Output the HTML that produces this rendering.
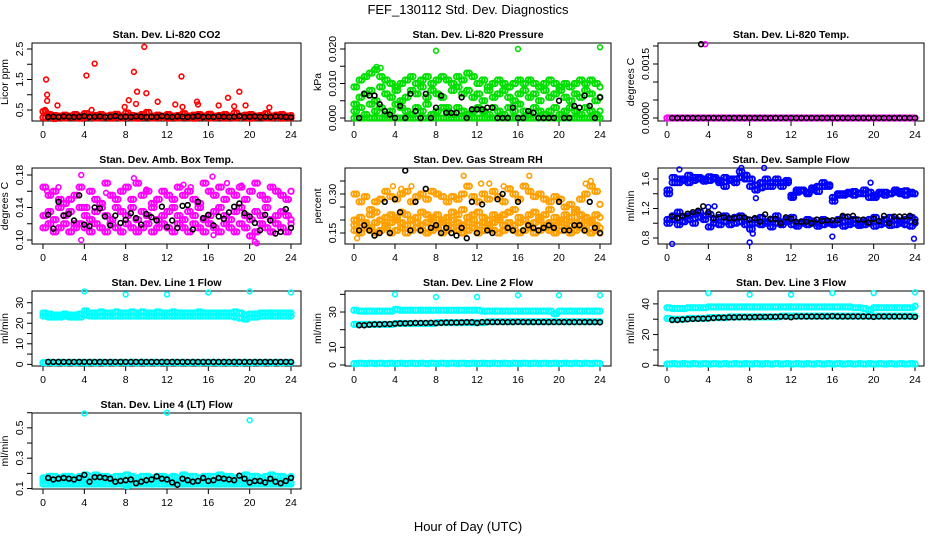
<!DOCTYPE html>
<html><head><meta charset="utf-8"><style>
html,body{margin:0;padding:0;background:#fff;}
svg{display:block;font-family:"Liberation Sans",sans-serif;}
</style></head><body>
<svg id="chart" width="936" height="540" viewBox="0 0 936 540">
<text x="468" y="14" text-anchor="middle" font-size="13">FEF_130112  Std. Dev. Diagnostics</text>
<text x="468" y="531" text-anchor="middle" font-size="13">Hour of Day (UTC)</text>
</svg>
<script>
const hours=[0,0.5,1,1.5,2,2.5,3,3.5,4,4.5,5,5.5,6,6.5,7,7.5,8,8.5,9,9.5,10,10.5,11,11.5,12,12.5,13,13.5,14,14.5,15,15.5,16,16.5,17,17.5,18,18.5,19,19.5,20,20.5,21,21.5,22,22.5,23,23.5,24];
const xTicks=[0,4,8,12,16,20,24];
const zeros=[0,0,0,0,0,0,0,0,0,0,0,0,0,0,0,0,0,0,0,0,0,0,0,0,0,0,0,0,0,0,0,0,0,0,0,0,0,0,0,0,0,0,0,0,0,0,0,0,0];
const ones=[0.8,1,0.8,1,0.8,1,0.8,1,0.8,1,0.8,1,0.8,1,0.8,1,0.8,1,0.8,1,0.8,1,0.8,1,0.8,1,0.8,1,0.8,1,0.8,1,0.8,1,0.8,1,0.8,1,0.8,1,0.8,1,0.8,1,0.8,1,0.8,1,0.8];

// CO2
const co2Red1=[0.45,0.35,0.32,0.3,0.33,0.3,0.35,0.3,0.38,0.3,0.32,0.35,0.3,0.33,0.36,0.3,0.4,0.32,0.3,0.35,0.42,0.3,0.33,0.3,0.35,0.3,0.32,0.38,0.3,0.33,0.35,0.3,0.36,0.3,0.32,0.35,0.3,0.4,0.3,0.33,0.35,0.3,0.32,0.38,0.3,0.33,0.35,0.3,0.32];
const co2Red2=[0.25,0.28,0.22,0.26,0.24,0.27,0.25,0.23,0.26,0.28,0.24,0.25,0.27,0.23,0.26,0.24,0.28,0.25,0.23,0.26,0.27,0.24,0.25,0.28,0.23,0.26,0.24,0.27,0.25,0.23,0.26,0.28,0.24,0.25,0.27,0.23,0.26,0.24,0.28,0.25,0.23,0.26,0.27,0.24,0.25,0.28,0.23,0.26,0.24];
const co2OutX=[0.2,0.3,0.4,0.4,1.4,4.2,4.7,5.0,7.9,8.3,8.8,9.0,9.1,9.8,10.0,11.1,12.8,13.4,13.5,14.9,15.0,17.0,17.9,18.5,19.0,19.6,21.9];
const co2OutY=[0.5,1.5,1.0,0.8,0.65,1.63,0.5,2.02,0.6,0.82,1.75,0.7,1.1,2.57,1.05,0.77,0.68,1.6,0.6,0.77,0.68,0.65,0.9,0.62,1.1,0.65,0.58];
const co2Black=[null,0.27,0.28,0.27,0.29,0.28,0.27,0.28,0.3,0.27,0.28,0.29,0.27,0.28,0.3,0.27,0.28,0.27,0.29,0.28,0.27,0.28,0.27,0.3,0.28,0.27,0.29,0.28,0.27,0.28,0.3,0.27,0.28,0.27,0.29,0.28,0.27,0.28,0.3,0.27,0.28,0.29,0.27,0.28,0.27,0.29,0.28,0.27,0.26];
// Pressure
const presG1=[0.009,0.011,0.012,0.013,0.014,0.012,0.011,0.010,0.009,0.010,0.011,0.012,0.010,0.011,0.012,0.010,0.011,0.012,0.011,0.010,0.012,0.011,0.013,0.012,0.010,0.011,0.009,0.010,0.011,0.010,0.009,0.010,0.011,0.010,0.011,0.010,0.009,0.010,0.011,0.010,0.009,0.010,0.009,0.010,0.011,0.010,0.011,0.010,0.009];
const presG2=[0.004,0.006,0.007,0.008,0.005,0.009,0.007,0.006,0.008,0.005,0.006,0.008,0.007,0.009,0.006,0.008,0.007,0.006,0.003,0.008,0.009,0.007,0.008,0.006,0.007,0.005,0.008,0.006,0.007,0.008,0.006,0.005,0.007,0.008,0.006,0.007,0.005,0.008,0.006,0.007,0.008,0.006,0.005,0.007,0.006,0.008,0.007,0.005,0.006];
const presG3=[0.002,0.003,0.001,0.004,0.002,0.003,0.001,0.002,0.004,0.003,0.002,0.001,0.003,0.002,0.004,0.001,0.002,0.003,0.002,0.001,0.003,0.002,0.001,0.002,0.003,0.002,0.001,0.003,0.002,0.001,0.003,0.002,0.004,0.002,0.001,0.003,0.002,0.001,0.002,0.003,0.001,0.002,0.003,0.002,0.001,0.003,0.002,0.001,0.002];
const presOutX=[8,16,24,2.2,2.6];
const presOutY=[0.0195,0.02,0.0205,0.0148,0.0145];
const presBlack=[null,0,0.007,0.0065,0.0065,0.004,0.002,0.001,0,0.0035,0,0.007,0.002,0,0.007,0,0.003,0.0065,0.0015,0.0015,0.0015,0.006,0,0.0025,0.0025,0.0025,0.003,0.003,0,0,0,0.003,0,0,0.002,0.0015,0,0,0,0,0.005,0,0,0.0035,0.003,0.0065,0.0035,0,0.006];
// Li-820 temp
const tempOutX=[3.7];
const tempOutY=[0.00205];
const tempBlack=[null,0,0,0,0,0,0,0,0,0,0,0,0,0,0,0,0,0,0,0,0,0,0,0,0,0,0,0,0,0,0,0,0,0,0,0,0,0,0,0,0,0,0,0,0,0,0,0,0];
const tempBlackOutX=[3.3];
const tempBlackOutY=[0.00205];
// Amb box
const ambM1=[0.165,0.155,0.16,0.15,0.145,0.15,0.155,0.165,0.14,0.16,0.15,0.145,0.17,0.155,0.15,0.16,0.165,0.15,0.17,0.155,0.16,0.145,0.15,0.16,0.155,0.15,0.165,0.155,0.16,0.15,0.145,0.17,0.16,0.155,0.165,0.15,0.16,0.155,0.165,0.15,0.16,0.17,0.155,0.15,0.165,0.16,0.155,0.15,0.16];
const ambM2=[0.13,0.135,0.125,0.14,0.13,0.135,0.12,0.14,0.13,0.125,0.135,0.14,0.13,0.125,0.14,0.135,0.13,0.14,0.125,0.135,0.13,0.14,0.125,0.13,0.135,0.14,0.13,0.125,0.135,0.13,0.14,0.125,0.13,0.135,0.14,0.13,0.125,0.135,0.14,0.13,0.125,0.135,0.13,0.14,0.125,0.13,0.135,0.13,0.125];
const ambM3=[0.115,0.12,0.11,0.115,0.12,0.11,0.115,0.12,0.115,0.11,0.12,0.115,0.11,0.12,0.115,0.11,0.12,0.115,0.11,0.115,0.12,0.11,0.115,0.12,0.115,0.11,0.12,0.115,0.11,0.12,0.115,0.11,0.12,0.115,0.11,0.12,0.115,0.11,0.12,0.115,0.105,0.11,0.12,0.115,0.11,0.12,0.115,0.11,0.12];
const ambOutX=[3.7,3.7,8.8,6.1,13.6,14.3,16.4,17.8,20.5,20.7,16.5,0.4,1.5,10,19.2];
const ambOutY=[0.18,0.1,0.176,0.158,0.168,0.165,0.178,0.17,0.098,0.096,0.106,0.16,0.165,0.162,0.167];
const ambBlack=[null,0.131,0.114,0.147,0.13,0.132,0.124,0.155,0.119,0.117,0.14,0.139,0.129,0.118,0.130,0.121,0.125,0.133,0.127,0.119,0.132,0.128,0.124,0.141,0.116,0.124,0.115,0.142,0.143,0.113,0.147,0.127,0.131,0.118,0.129,0.126,0.134,0.141,0.145,0.133,0.129,0.121,0.112,0.131,0.124,0.108,0.11,0.138,0.115];
// RH
const rhR1=[0.30,0.27,0.29,0.24,0.27,0.28,0.31,0.29,0.28,0.30,0.31,0.27,0.29,0.30,0.28,0.31,0.30,0.29,0.27,0.29,0.28,0.30,0.33,0.29,0.27,0.30,0.28,0.31,0.29,0.27,0.32,0.30,0.28,0.33,0.31,0.29,0.30,0.28,0.27,0.29,0.28,0.25,0.26,0.24,0.28,0.30,0.33,0.31,0.26];
const rhR2=[0.20,0.21,0.19,0.22,0.23,0.20,0.21,0.22,0.21,0.23,0.22,0.20,0.21,0.23,0.22,0.21,0.22,0.20,0.21,0.23,0.22,0.24,0.21,0.22,0.23,0.21,0.20,0.22,0.21,0.22,0.23,0.24,0.21,0.20,0.22,0.23,0.21,0.22,0.24,0.21,0.20,0.22,0.21,0.23,0.22,0.21,0.20,0.22,0.21];
const rhR3=[0.16,0.15,0.17,0.16,0.15,0.16,0.17,0.15,0.16,0.17,0.15,0.16,0.17,0.16,0.15,0.16,0.17,0.15,0.16,0.17,0.16,0.15,0.16,0.17,0.15,0.16,0.17,0.16,0.15,0.16,0.17,0.16,0.15,0.16,0.17,0.15,0.16,0.17,0.16,0.15,0.16,0.17,0.15,0.16,0.17,0.16,0.15,0.16,0.15];
const rhR4=[0.18,0.19,0.18,0.17,0.19,0.2,0.18,0.19,0.2,0.19,0.18,0.2,0.19,0.18,0.19,0.2,0.18,0.19,0.18,0.2,0.19,0.18,0.19,0.2,0.18,0.19,0.18,0.19,0.2,0.18,0.19,0.18,0.19,0.2,0.18,0.19,0.2,0.18,0.19,0.18,0.19,0.2,0.18,0.19,0.2,0.18,0.19,0.18,0.17];
const rhOutX=[0.3,10.7,12.4,13.2,17.1,23.1,5.6,4.6,3.8,14.6,22.6];
const rhOutY=[0.13,0.37,0.34,0.34,0.37,0.35,0.33,0.32,0.33,0.33,0.34];
const rhBlack=[null,0.16,0.18,0.16,0.14,0.15,0.27,0.15,0.28,0.23,0.39,0.16,0.27,0.16,0.32,0.17,0.18,0.15,0.17,0.15,0.14,0.17,0.13,0.27,0.15,0.26,0.16,0.15,0.28,0.30,0.17,0.16,0.27,0.16,0.18,0.17,0.16,0.17,0.18,0.17,0.27,0.16,0.16,0.18,0.18,0.16,0.27,0.17,0.15];
// Sample flow
const flowU1=[1.45,1.62,1.55,1.6,1.65,1.58,1.62,1.6,1.63,1.6,1.58,1.62,1.6,1.55,1.62,1.6,1.5,1.52,1.48,1.5,1.55,1.6,1.5,1.55,1.38,1.42,1.44,1.42,1.45,1.43,1.5,1.52,1.3,1.38,1.4,1.42,1.43,1.41,1.4,1.35,1.38,1.4,1.42,1.4,1.42,1.43,1.44,1.42,1.4];
const flowU2=[1.4,1.55,1.6,1.58,1.55,1.62,1.6,1.57,1.58,1.62,1.55,1.5,1.58,1.6,1.7,1.65,1.6,1.45,1.55,1.6,1.5,1.55,1.55,1.58,1.35,1.45,1.45,1.4,1.48,1.5,1.55,1.5,1.35,1.4,1.38,1.4,1.38,1.4,1.45,1.42,1.35,1.42,1.38,1.4,1.45,1.4,1.38,1.4,1.4];
const flowL1=[1.05,1.1,1.15,1.08,1.1,1.12,1.15,1.1,1.12,1.05,1.08,1.1,1.05,1.08,1.1,1.05,1.0,1.05,1.08,1.02,1.05,1.1,1.02,1.05,1.08,1.0,1.02,1.05,1.03,1.0,1.05,1.02,1.0,1.05,1.08,1.02,1.05,1.0,1.02,1.05,1.08,1.02,1.05,1.08,1.05,1.03,1.05,1.08,1.05];
const flowL2=[1.0,1.05,0.98,1.02,1.05,1.0,1.08,1.05,0.95,1.0,0.98,1.02,0.98,1.0,1.02,0.98,0.92,1.0,0.98,1.0,0.95,1.0,0.98,1.02,0.98,0.96,1.0,0.98,1.0,0.96,0.98,1.0,0.98,1.0,0.96,0.98,1.0,0.97,0.98,1.0,0.96,0.98,1.0,0.97,0.98,1.0,0.98,0.96,1.0];
const flowOutX=[0.5,8,8.3,16,23.9,7.2,9.4,1.2,19.7,4,4.6,8.6];
const flowOutY=[0.72,0.74,0.86,0.82,0.79,1.75,1.75,1.73,1.55,1.22,1.23,1.34];
const flowBlack=[null,1.09,1.07,1.1,1.13,1.15,1.17,1.23,1.15,1.07,1.12,1.08,1.07,1.07,1.08,1.08,1.05,1.07,1.02,1.12,1.06,1.06,1.0,1.08,1.06,1.02,1.02,1.02,1.0,1.05,1.03,1.04,1.04,1.04,1.1,1.09,1.1,1.05,1.05,1.01,1.06,1.03,1.1,1.0,1.09,1.09,1.09,1.1,1.02];
// Line 1
const l1C1=[25,24.5,24,24,24.5,24,24,24.5,26,25,25,25.5,25,25,25.5,25,25,25.5,25,25.5,25,25,25.5,25,25,25.5,25,25,25,25,25.5,25,25,25,25,25,25,25.5,25,24,24.5,24.5,25,25,25,25,25,25,25];
const l1C2=[23.5,23,23,23,23.5,23,23,23,24,23.5,23.5,23.5,23.5,23.5,23.5,23.5,23.5,23.5,23.5,23.5,23.5,23.5,23.5,23.5,23.5,23.5,23.5,23.5,23.5,23.5,23.5,23.5,23.5,23.5,23.5,23.5,23.5,23,22.5,22,23,23,23.5,23.5,23.5,23.5,23.5,23.5,23.5];
const l1OutX=[4,8,12,16,20,24];
const l1OutY=[35.5,34,34,35,35.5,35];
const l1Black=[null,1.2,1.2,1.2,1.2,1.2,1.2,1.2,1.2,1.2,1.2,1.2,1.2,1.2,1.2,1.2,1.2,1.2,1.2,1.2,1.2,1.2,1.2,1.2,1.2,1.2,1.2,1.2,1.2,1.2,1.2,1.2,1.2,1.2,1.2,1.2,1.2,1.2,1.2,1.2,1.2,1.2,1.2,1.2,1.2,1.2,1.2,1.2,1.2];
// Line 2
const l2C1=[31,30.5,30.5,30.5,30.5,30.5,30.5,30.5,31.5,31,31,31,31,31,31,31,31,31,31,31,31,31,31,31,31,30.5,30.5,30.5,30.5,30.5,30.5,30.5,30.5,30.5,30.5,30.5,30.5,30.5,30.5,29,30.5,30.5,30.5,30.5,30.5,30.5,30.5,30.5,30.5];
const l2C2=[23,23,23,23,23,23,23,23,23.5,23.5,23.5,23.5,23.5,23.5,23.5,23.5,24,24,24,24,24,24,24,24,24,24,24.5,24.5,24.5,24.5,24.5,24.5,24.5,24.5,24.5,24.5,24.5,24.5,24.5,24.5,24.5,24.5,24.5,24.5,24.5,24.5,24.5,24.5,24.5];
const l2OutX=[4,8,12,16,20,24];
const l2OutY=[40,38.5,38.5,39.5,39.5,39.5];
const l2Black=[null,22.5,22.5,22.8,23,23,23.2,23.2,23.4,23.6,23.6,23.7,23.8,23.8,23.8,23.9,23.7,23.9,24,24,24,24.1,24.2,24.2,23.8,24.3,24.3,24.3,24.3,24.3,24.3,24.3,24.4,24.3,24.3,24.3,24.3,24.3,24.3,24.3,24.3,24.3,24.3,24.3,24.3,24.3,24.3,24.3,24.2];
// Line 3
const l3C1=[37.5,37,37,37,37.5,37.5,37.5,37.5,38,38,38,38,38,38,38,38,38,38,38,38,38,38,38,38,38,38,38,38,38,38,38,38,38,38,38,38,37.5,37.5,37,36,37.5,37.5,37.5,37.5,37.5,37.5,37.5,37.5,38.5];
const l3C2=[30.5,30,30,30,30.5,30.5,30.5,30.5,31,31,31,31,31.5,31.5,31.5,31.5,31.5,31.5,31.5,31.5,31.5,31.5,32,32,32,32,32,32,32,32,32,32,32,32,32,32,32,32,32,32,32,32,32,32,32,32,32,32,32];
const l3OutX=[4,8,12,16,20,24];
const l3OutY=[47,46,46,47,47,47.5];
const l3Black=[null,29.5,29.5,29.8,30,30.2,30.3,30.4,30.5,30.8,31,31,31.2,31.2,31.3,31.4,31.3,31.4,31.5,31.5,31.6,31.6,31.7,31.7,31.3,31.8,31.8,31.8,31.8,31.8,31.8,31.8,32,31.8,31.8,31.8,31.8,31.8,31.8,31.8,31.5,31.8,31.8,31.8,31.8,31.8,31.8,31.8,31.5];
// Line 4
const l4C1=[0.17,0.18,0.18,0.17,0.18,0.18,0.17,0.18,0.19,0.18,0.19,0.18,0.18,0.17,0.18,0.18,0.19,0.18,0.17,0.18,0.18,0.17,0.18,0.18,0.17,0.18,0.17,0.19,0.18,0.18,0.17,0.18,0.18,0.18,0.19,0.18,0.18,0.17,0.18,0.19,0.18,0.18,0.17,0.18,0.19,0.18,0.18,0.17,0.18];
const l4C2=[0.15,0.15,0.14,0.15,0.15,0.14,0.15,0.15,0.14,0.15,0.15,0.14,0.15,0.15,0.14,0.15,0.13,0.15,0.14,0.15,0.15,0.14,0.15,0.15,0.14,0.15,0.15,0.14,0.15,0.15,0.14,0.15,0.15,0.14,0.15,0.15,0.14,0.15,0.15,0.14,0.15,0.15,0.14,0.15,0.15,0.14,0.15,0.15,0.14];
const l4C3=[0.13,0.13,0.13,0.13,0.13,0.13,0.13,0.13,0.13,0.13,0.13,0.13,0.13,0.13,0.13,0.13,0.12,0.13,0.13,0.13,0.13,0.13,0.13,0.13,0.13,0.13,0.13,0.13,0.13,0.13,0.13,0.13,0.13,0.13,0.13,0.13,0.13,0.13,0.13,0.13,0.13,0.13,0.13,0.13,0.13,0.13,0.13,0.13,0.13];
const l4OutX=[4,12,20];
const l4OutY=[0.595,0.6,0.55];
const l4Black=[null,0.17,0.16,0.165,0.17,0.165,0.16,0.17,0.19,0.145,0.175,0.175,0.17,0.165,0.145,0.15,0.155,0.16,0.135,0.145,0.155,0.16,0.18,0.165,0.16,0.14,0.125,0.165,0.155,0.145,0.15,0.17,0.15,0.155,0.17,0.165,0.16,0.155,0.185,0.165,0.14,0.15,0.15,0.14,0.165,0.145,0.135,0.15,0.17];

const NS='http://www.w3.org/2000/svg';
const svg=document.getElementById('chart');
const colL=[32,345,658], colR=[301,611,924], colX0=[43,354,667], colX24=[291,600,915];
const rowT=[43,168,291,413], rowB=[121,244,366,489];
function mk(tag,attrs,parent){const e=document.createElementNS(NS,tag);for(const k in attrs)e.setAttribute(k,attrs[k]);(parent||svg).appendChild(e);return e;}

function panel(p){
  const g=mk('g',{});
  
  
  const L=colL[p.c],R=colR[p.c],T=rowT[p.r],B=rowB[p.r];
  const xs=h=>colX0[p.c]+(colX24[p.c]-colX0[p.c])*h/24;
  const ys=v=>B-(v-p.lo)/(p.hi-p.lo)*(B-T);
  const t=mk('text',{x:(L+R)/2,y:T-5,'text-anchor':'middle','font-size':10.5,'font-weight':'bold'},g);
  t.textContent=p.title;
  
  
  const yl=mk('text',{x:0,y:0,'text-anchor':'middle','font-size':10.5,transform:`translate(${L-24},${(T+B)/2}) rotate(-90)`},g);
  yl.textContent=p.ylabel;
  
  
  const box=mk('rect',{x:L,y:T,width:R-L,height:B-T,fill:'none',stroke:'#000','stroke-width':1},g);
  
  
  xTicks.forEach(h=>{
    mk('line',{x1:xs(h),x2:xs(h),y1:B,y2:B+5,stroke:'#000'},g);
    const tl=mk('text',{x:xs(h),y:B+17,'text-anchor':'middle','font-size':10.5},g);
    tl.textContent=h;
    
    
  });
  p.ticks.forEach((v,i)=>{
    mk('line',{x1:L-5,x2:L,y1:ys(v),y2:ys(v),stroke:'#000'},g);
    if(p.labels[i]){
      const tl=mk('text',{x:0,y:0,'text-anchor':'middle','font-size':10.5,transform:`translate(${L-9},${ys(v)}) rotate(-90)`},g);
      tl.textContent=p.labels[i];
      
      
    }
  });
  p.series.forEach(s=>{
    const sx=s.x||hours;
    const offs=s.dense?[0,0.25]:[0];
    s.y.forEach((v,i)=>{
      if(v===null||v===undefined)return;
      offs.forEach(o=>{
        const hx=sx[i]+o; if(hx>24.05)return;
        const c=mk('circle',{cx:xs(hx),cy:ys(v),r:s.dense?2.7:2.4,fill:'none',stroke:s.col,'stroke-width':s.dense?1.9:1.6},g);
        
        
      });
    });
  });
}
const RED='#ff0000',GRN='#00e000',MAG='#ff00ff',ORG='#ffa000',BLU='#0000ff',CYN='#00ffff',BLK='#000';
const panels=[
 {name:'panel-co2',c:0,r:0,title:'Stan. Dev. Li-820 CO2',ylabel:'Licor ppm',lo:0.139,hi:2.697,ticks:[0.5,1,1.5,2,2.5],labels:['0.5','','1.5','','2.5'],
  series:[{y:co2Red1,col:RED,name:'co2-point',dense:true},{y:co2Red2,col:RED,name:'co2-point',dense:true},{x:co2OutX,y:co2OutY,col:RED,name:'co2-point'},{y:co2Black,col:BLK,name:'co2-mean-point'}]},
 {name:'panel-pressure',c:1,r:0,title:'Stan. Dev. Li-820 Pressure',ylabel:'kPa',lo:-0.00087,hi:0.02174,ticks:[0,0.005,0.01,0.015,0.02],labels:['0.000','','0.010','','0.020'],
  series:[{y:zeros,col:GRN,name:'pressure-point',dense:true},{y:presG1,col:GRN,name:'pressure-point',dense:true},{y:presG2,col:GRN,name:'pressure-point',dense:true},{y:presG3,col:GRN,name:'pressure-point',dense:true},{x:presOutX,y:presOutY,col:GRN,name:'pressure-point'},{y:presBlack,col:BLK,name:'pressure-mean-point'}]},
 {name:'panel-li820-temp',c:2,r:0,title:'Stan. Dev. Li-820 Temp.',ylabel:'degrees C',lo:-0.0000833,hi:0.002083,ticks:[0,0.0005,0.001,0.0015,0.002],labels:['0.0000','','','0.0015',''],
  series:[{y:zeros,col:MAG,name:'temp-point',dense:true},{x:tempOutX,y:tempOutY,col:MAG,name:'temp-point'},{y:tempBlack,col:BLK,name:'temp-mean-point'},{x:tempBlackOutX,y:tempBlackOutY,col:BLK,name:'temp-mean-point'}]},
 {name:'panel-amb-box-temp',c:0,r:1,title:'Stan. Dev. Amb. Box Temp.',ylabel:'degrees C',lo:0.0951,hi:0.1886,ticks:[0.1,0.12,0.14,0.16,0.18],labels:['0.10','','0.14','','0.18'],
  series:[{y:ambM1,col:MAG,name:'amb-temp-point',dense:true},{y:ambM2,col:MAG,name:'amb-temp-point',dense:true},{y:ambM3,col:MAG,name:'amb-temp-point',dense:true},{x:ambOutX,y:ambOutY,col:MAG,name:'amb-temp-point'},{y:ambBlack,col:BLK,name:'amb-temp-mean-point'}]},
 {name:'panel-gas-rh',c:1,r:1,title:'Stan. Dev. Gas Stream RH',ylabel:'percent',lo:0.1077,hi:0.40,ticks:[0.15,0.2,0.25,0.3,0.35],labels:['0.15','','','0.30',''],
  series:[{y:rhR1,col:ORG,name:'rh-point',dense:true},{y:rhR2,col:ORG,name:'rh-point',dense:true},{y:rhR4,col:ORG,name:'rh-point',dense:true},{y:rhR3,col:ORG,name:'rh-point',dense:true},{x:rhOutX,y:rhOutY,col:ORG,name:'rh-point'},{y:rhBlack,col:BLK,name:'rh-mean-point'}]},
 {name:'panel-sample-flow',c:2,r:1,title:'Stan. Dev. Sample Flow',ylabel:'ml/min',lo:0.7186,hi:1.749,ticks:[0.8,1.0,1.2,1.4,1.6],labels:['0.8','','1.2','','1.6'],
  series:[{y:flowU1,col:BLU,name:'sample-flow-point',dense:true},{y:flowU2,col:BLU,name:'sample-flow-point',dense:true},{y:flowL1,col:BLU,name:'sample-flow-point',dense:true},{y:flowL2,col:BLU,name:'sample-flow-point',dense:true},{x:flowOutX,y:flowOutY,col:BLU,name:'sample-flow-point'},{y:flowBlack,col:BLK,name:'sample-flow-mean-point'}]},
 {name:'panel-line1-flow',c:0,r:2,title:'Stan. Dev. Line 1 Flow',ylabel:'ml/min',lo:-0.8,hi:35.7,ticks:[0,5,10,15,20,25,30],labels:['0','','10','','20','','30'],
  series:[{y:l1C1,col:CYN,name:'line1-point',dense:true},{y:l1C2,col:CYN,name:'line1-point',dense:true},{y:ones,col:CYN,name:'line1-point',dense:true},{x:l1OutX,y:l1OutY,col:CYN,name:'line1-point'},{y:l1Black,col:BLK,name:'line1-mean-point'}]},
 {name:'panel-line2-flow',c:1,r:2,title:'Stan. Dev. Line 2 Flow',ylabel:'ml/min',lo:-0.57,hi:41.9,ticks:[0,10,20,30,40],labels:['0','10','','30',''],
  series:[{y:l2C1,col:CYN,name:'line2-point',dense:true},{y:l2C2,col:CYN,name:'line2-point',dense:true},{y:ones,col:CYN,name:'line2-point',dense:true},{x:l2OutX,y:l2OutY,col:CYN,name:'line2-point'},{y:l2Black,col:BLK,name:'line2-mean-point'}]},
 {name:'panel-line3-flow',c:2,r:2,title:'Stan. Dev. Line 3 Flow',ylabel:'ml/min',lo:-0.5,hi:48.4,ticks:[0,10,20,30,40],labels:['0','','20','','40'],
  series:[{y:l3C1,col:CYN,name:'line3-point',dense:true},{y:l3C2,col:CYN,name:'line3-point',dense:true},{y:ones,col:CYN,name:'line3-point',dense:true},{x:l3OutX,y:l3OutY,col:CYN,name:'line3-point'},{y:l3Black,col:BLK,name:'line3-mean-point'}]},
 {name:'panel-line4-flow',c:0,r:3,title:'Stan. Dev. Line 4 (LT) Flow',ylabel:'ml/min',lo:0.097,hi:0.598,ticks:[0.1,0.2,0.3,0.4,0.5,0.6],labels:['0.1','','0.3','','0.5',''],
  series:[{y:l4C1,col:CYN,name:'line4-point',dense:true},{y:l4C2,col:CYN,name:'line4-point',dense:true},{y:l4C3,col:CYN,name:'line4-point',dense:true},{x:l4OutX,y:l4OutY,col:CYN,name:'line4-point'},{y:l4Black,col:BLK,name:'line4-mean-point'}]}
];
panels.forEach(panel);
</script>
</body></html>
